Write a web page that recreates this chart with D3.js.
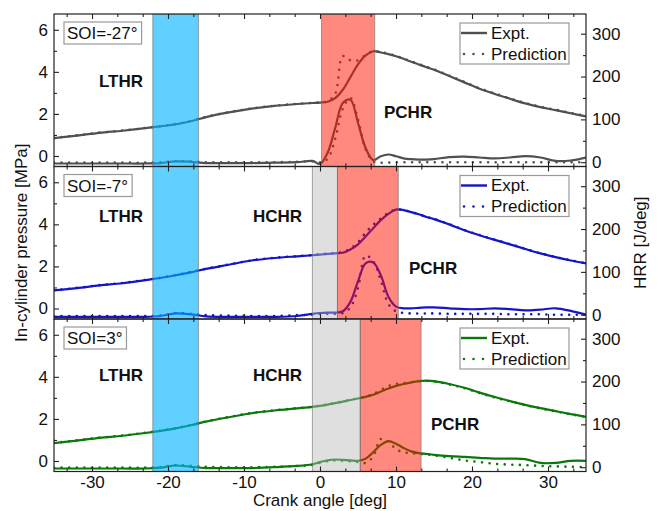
<!DOCTYPE html>
<html lang="en">
<head>
<meta charset="UTF-8" />
<title>SOI heat release</title>
<script src="https://d3js.org/d3.v7.min.js"></script>
<style>
  body { margin: 0; background: #fff; }
  svg text { font-family: 'Liberation Sans', Arial, sans-serif; fill: #111; }
</style>
</head>
<body>
<svg width="659" height="511"></svg>
<script>
// crank angle grid [deg]
var angles = [-35, -32, -29, -26, -23, -21, -19, -17, -15, -12, -9, -6, -3, -1,
  0, 1, 2, 3, 4, 5, 6, 7, 8, 9, 10, 11, 12, 13, 14, 15,
  17, 19, 21, 23, 25, 27, 29, 31, 33, 35]

// SOI = -27
var pExpt1 = [0.85, 0.97, 1.1, 1.2, 1.32, 1.41, 1.5, 1.65, 1.85, 2.07, 2.25, 2.38, 2.47, 2.52,
  2.54, 2.58, 2.75, 3.15, 3.75, 4.35, 4.78, 4.98, 4.92, 4.84, 4.74, 4.62, 4.48, 4.35, 4.22, 4.1,
  3.8, 3.5, 3.2, 2.95, 2.72, 2.5, 2.32, 2.18, 2.03, 1.88]
var pPred1 = [0.86, 0.98, 1.11, 1.21, 1.33, 1.42, 1.52, 1.67, 1.86, 2.08, 2.26, 2.39, 2.48, 2.53,
  2.55, 2.6, 2.95, 4.75, 4.55, 4.55, 4.8, 4.98, 4.94, 4.86, 4.76, 4.63, 4.5, 4.37, 4.24, 4.12,
  3.82, 3.52, 3.22, 2.97, 2.74, 2.52, 2.34, 2.2, 2.05, 1.9]
var hExpt1 = [-3, -3, -3, -3, -3, -2, 2, 1, -2, -2, -2, -1, 0, 3,
  -4, 22, 80, 138, 146, 92, 33, 5, 14, 18, 14, 9, 7, 6, 6, 7,
  12, 13, 11, 9, 11, 14, 11, 3, 4, 11]
var hPred1 = [-1, -1, -1, -1, -1, 0, 3, 2, 0, 0, 0, 0, 1, 2,
  -1, 8, 55, 125, 150, 100, 30, 2, -1, -1, 0, 0, 0, 0, 0, 0,
  0, 0, 0, 0, 0, 0, 0, 0, 0, 0]

// SOI = -7
var pExpt2 = [0.86, 0.97, 1.1, 1.2, 1.35, 1.45, 1.58, 1.72, 1.88, 2.08, 2.28, 2.4, 2.48, 2.53,
  2.56, 2.6, 2.62, 2.65, 2.8, 3.05, 3.42, 3.82, 4.2, 4.5, 4.7, 4.68, 4.58, 4.48, 4.35, 4.25,
  4.0, 3.72, 3.48, 3.26, 3.05, 2.83, 2.62, 2.44, 2.28, 2.14]
var pPred2 = [0.87, 0.98, 1.11, 1.21, 1.36, 1.46, 1.59, 1.73, 1.89, 2.09, 2.29, 2.41, 2.49, 2.54,
  2.57, 2.61, 2.64, 2.68, 2.85, 3.15, 3.6, 3.98, 4.28, 4.55, 4.71, 4.68, 4.58, 4.48, 4.36, 4.26,
  4.01, 3.73, 3.49, 3.27, 3.06, 2.84, 2.63, 2.45, 2.29, 2.15]
var hExpt2 = [-5, -5, -5, -5, -5, -3, 3, 1, -4, -5, -5, -5, -3, 2,
  4, 5, 5, 8, 30, 78, 120, 122, 92, 42, 19, 15, 15, 16, 17, 17,
  15, 13, 13, 15, 13, 10, 12, 15, 9, 0]
var hPred2 = [-3, -3, -3, -3, -3, -2, 4, 2, -1, -2, -3, -3, -1, 0,
  2, 2, 2, 4, 17, 62, 138, 125, 80, 25, 8, 4, 3, 3, 3, 3,
  2, 2, 2, 2, 1, 1, 1, 0, 0, 0]

// SOI = 3
var pExpt3 = [0.85, 0.97, 1.1, 1.2, 1.33, 1.43, 1.55, 1.7, 1.87, 2.08, 2.27, 2.4, 2.5, 2.57,
  2.62, 2.68, 2.75, 2.82, 2.9, 2.97, 3.05, 3.15, 3.3, 3.45, 3.57, 3.66, 3.74, 3.8, 3.82, 3.8,
  3.66, 3.48, 3.25, 3.04, 2.85, 2.67, 2.51, 2.37, 2.23, 2.1]
var pPred3 = [0.86, 0.98, 1.11, 1.21, 1.34, 1.44, 1.56, 1.71, 1.88, 2.09, 2.28, 2.41, 2.51, 2.58,
  2.63, 2.69, 2.76, 2.83, 2.91, 2.98, 3.06, 3.18, 3.38, 3.56, 3.66, 3.7, 3.74, 3.79, 3.8, 3.78,
  3.64, 3.46, 3.23, 3.02, 2.83, 2.66, 2.5, 2.36, 2.22, 2.09]
var hExpt3 = [-3, -3, -3, -3, -3, -1, 4, 1, -2, -2, -2, 0, 3, 7,
  12, 16, 18, 17, 16, 15, 20, 35, 52, 61, 55, 45, 37, 33, 31, 29,
  26, 24, 22, 20, 20, 19, 10, 10, 15, 15]
var hPred3 = [-1, -1, -1, -1, -1, 0, 5, 3, 1, 0, 0, 1, 3, 5,
  10, 14, 16, 15, 14, 12, 10, 25, 66, 60, 42, 35, 33, 31, 30, 28,
  22, 16, 12, 8, 6, 5, 3, 2, 1, 0]

var soiLabels = ['SOI=-27°', 'SOI=-7°', 'SOI=3°']
var lineColors = ['#505050', '#1414c8', '#0a780a']
var lthrRange = [-22, -16]
var hchrRanges = [null, [-1, 2.3], [-1, 5.3]]
var pchrRanges = [[0.2, 7.2], [2.3, 10.3], [5.3, 13.3]]

var xTicks = [-30, -20, -10, 0, 10, 20, 30]
var pTicks = [0, 2, 4, 6]
var pMinor = [1, 3, 5]
var hTicks = [0, 100, 200, 300]
var hMinor = [50, 150, 250]

// label placement per panel (baseline offsets from panel top)
var lthrY = [73, 55, 62]
var hchrY = [null, 55, 62]
var pchrPos = [[384, 104], [409, 107], [431, 111]]

var panels = soiLabels.map(function (s, i) {
  return {
    soi: s,
    color: lineColors[i],
    pExpt: [pExpt1, pExpt2, pExpt3][i],
    pPred: [pPred1, pPred2, pPred3][i],
    hExpt: [hExpt1, hExpt2, hExpt3][i],
    hPred: [hPred1, hPred2, hPred3][i],
    hchr: hchrRanges[i],
    pchr: pchrRanges[i]
  }
})

var svg = d3.select('svg')
var left = 54, right = 586, top0 = 14, panelH = 152.5
var font = "'Liberation Sans', Arial, sans-serif"

var x = d3.scaleLinear().domain([-35, 35]).range([left, right])
var xMinor = d3.range(-10, 11).filter(function (k) { return k % 3 !== 0 })
  .map(function (k) { return k * 10 / 3 })

function styleAxis(g) {
  g.select('.domain').remove()
  g.selectAll('line').attr('stroke', '#222').attr('stroke-width', 1.1)
  g.selectAll('text').attr('font-size', 17).attr('font-family', font).attr('fill', '#111')
}

panels.forEach(function (p, i) {
  var top = top0 + i * panelH
  var bottom = top + panelH
  var yP = d3.scaleLinear().domain([-0.5, 6.75]).range([bottom, top])
  var yH = d3.scaleLinear().domain([-10, 346]).range([bottom, top])
  var g = svg.append('g')

  g.append('clipPath').attr('id', 'clip' + i)
    .append('rect').attr('x', left).attr('y', top).attr('width', right - left).attr('height', panelH)

  var plot = g.append('g').attr('clip-path', 'url(#clip' + i + ')')

  var lineP = d3.line().x(function (d, k) { return x(angles[k]) })
    .y(function (d) { return yP(d) }).curve(d3.curveCatmullRom)
  var lineH = d3.line().x(function (d, k) { return x(angles[k]) })
    .y(function (d) { return yH(d) }).curve(d3.curveCatmullRom)

  // expt lines
  plot.append('path').attr('d', lineP(p.pExpt)).attr('fill', 'none')
    .attr('stroke', p.color).attr('stroke-width', 2.2)
  plot.append('path').attr('d', lineH(p.hExpt)).attr('fill', 'none')
    .attr('stroke', p.color).attr('stroke-width', 2.2)
  // prediction dots
  plot.append('path').attr('d', lineP(p.pPred)).attr('fill', 'none')
    .attr('stroke', p.color).attr('stroke-width', 2.6)
    .attr('stroke-linecap', 'round').attr('stroke-dasharray', '0 7.6')
  plot.append('path').attr('d', lineH(p.hPred)).attr('fill', 'none')
    .attr('stroke', p.color).attr('stroke-width', 2.6)
    .attr('stroke-linecap', 'round').attr('stroke-dasharray', '0 7.6')

  // shaded regimes drawn over the curves
  function band(r, fill, op) {
    plot.append('rect')
      .attr('x', x(r[0])).attr('y', top)
      .attr('width', x(r[1]) - x(r[0])).attr('height', panelH)
      .attr('fill', fill).attr('fill-opacity', op)
      .attr('stroke', 'rgba(110,110,110,0.6)').attr('stroke-width', 1)
  }
  band(lthrRange, 'rgb(0,178,255)', 0.62)
  if (p.hchr) band(p.hchr, 'rgb(185,185,185)', 0.45)
  band(p.pchr, 'rgb(255,20,0)', 0.5)

  // axes
  g.append('g').attr('transform', 'translate(0,' + bottom + ')')
    .call(d3.axisBottom(x).tickValues(xTicks).tickSize(-5).tickPadding(4)
      .tickFormat(i === 2 ? function (d) { return String(d) } : ''))
    .call(styleAxis)
  g.append('g').attr('transform', 'translate(0,' + bottom + ')')
    .call(d3.axisBottom(x).tickValues(xMinor).tickSize(-3).tickFormat(''))
    .call(styleAxis)
  g.append('g').attr('transform', 'translate(0,' + top + ')')
    .call(d3.axisTop(x).tickValues(xTicks).tickSize(-5).tickFormat(''))
    .call(styleAxis)
  g.append('g').attr('transform', 'translate(0,' + top + ')')
    .call(d3.axisTop(x).tickValues(xMinor).tickSize(-3).tickFormat(''))
    .call(styleAxis)

  g.append('g').attr('transform', 'translate(' + left + ',0)')
    .call(d3.axisLeft(yP).tickValues(pTicks).tickSize(-5).tickPadding(6)
      .tickFormat(function (d) { return String(d) }))
    .call(styleAxis)
  g.append('g').attr('transform', 'translate(' + left + ',0)')
    .call(d3.axisLeft(yP).tickValues(pMinor).tickSize(-3).tickFormat(''))
    .call(styleAxis)
  g.append('g').attr('transform', 'translate(' + right + ',0)')
    .call(d3.axisRight(yH).tickValues(hTicks).tickSize(-5).tickPadding(6)
      .tickFormat(function (d) { return String(d) }))
    .call(styleAxis)
  g.append('g').attr('transform', 'translate(' + right + ',0)')
    .call(d3.axisRight(yH).tickValues(hMinor).tickSize(-3).tickFormat(''))
    .call(styleAxis)

  g.append('rect').attr('x', left).attr('y', top)
    .attr('width', right - left).attr('height', panelH)
    .attr('fill', 'none').attr('stroke', '#222').attr('stroke-width', 1.2)

  // regime labels
  g.append('text').attr('x', 99).attr('y', top + lthrY[i])
    .attr('font-size', 17).attr('font-weight', 'bold').text('LTHR')
  if (hchrY[i]) {
    g.append('text').attr('x', 253).attr('y', top + hchrY[i])
      .attr('font-size', 17).attr('font-weight', 'bold').text('HCHR')
  }
  g.append('text').attr('x', pchrPos[i][0]).attr('y', top + pchrPos[i][1])
    .attr('font-size', 17).attr('font-weight', 'bold').text('PCHR')

  // SOI box
  var soiBox = g.append('rect').attr('x', 64).attr('y', top + 8).attr('height', 22)
    .attr('fill', '#fff').attr('stroke', '#9a9a9a').attr('stroke-width', 1.2)
  var soiText = g.append('text').attr('x', 67).attr('y', top + 25)
    .attr('font-size', 17).text(p.soi)
  soiBox.attr('width', soiText.node().getComputedTextLength() + 7)

  // legend
  var lg = g.append('g').attr('transform', 'translate(460,' + (top + 9) + ')')
  lg.append('rect').attr('width', 109).attr('height', 41)
    .attr('fill', '#fff').attr('stroke', '#9a9a9a').attr('stroke-width', 1.2)
  lg.append('line').attr('x1', 1).attr('x2', 27).attr('y1', 10).attr('y2', 10)
    .attr('stroke', p.color).attr('stroke-width', 2.4)
  lg.append('text').attr('x', 31).attr('y', 15.5).attr('font-size', 17).text('Expt.')
  lg.append('line').attr('x1', 4).attr('x2', 24).attr('y1', 31).attr('y2', 31)
    .attr('stroke', p.color).attr('stroke-width', 2.6)
    .attr('stroke-linecap', 'round').attr('stroke-dasharray', '0 9.5')
  lg.append('text').attr('x', 31).attr('y', 36.5).attr('font-size', 17).text('Prediction')
})

var midY = top0 + panelH * 1.5
svg.append('text').attr('x', 320).attr('y', 506).attr('text-anchor', 'middle')
  .attr('font-size', 17).text('Crank angle [deg]')
svg.append('text').attr('transform', 'translate(27,' + midY + ') rotate(-90)')
  .attr('text-anchor', 'middle').attr('font-size', 17).text('In-cylinder pressure [MPa]')
svg.append('text').attr('transform', 'translate(646,' + midY + ') rotate(-90)')
  .attr('text-anchor', 'middle').attr('font-size', 17).text('HRR [J/deg]')
</script>
</body>
</html>
